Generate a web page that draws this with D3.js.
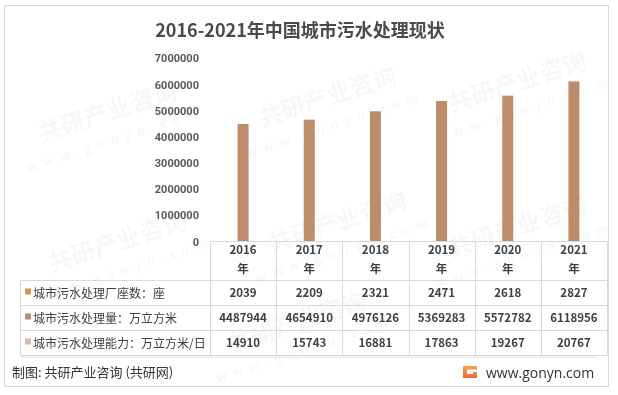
<!DOCTYPE html>
<html><head><meta charset="utf-8">
<script src="https://cdn.jsdelivr.net/npm/d3@7"></script>
<style>
html,body{margin:0;padding:0;background:#fff;}
svg{display:block;font-family:"Noto Sans CJK SC","Noto Sans",sans-serif;}
</style></head>
<body><svg id="c" width="618" height="395"></svg>
<script>
const title = "2016-2021年中国城市污水处理现状";
const years = ["2016","2017","2018","2019","2020","2021"];
const plants = [2039, 2209, 2321, 2471, 2618, 2827];
const volume = [4487944, 4654910, 4976126, 5369283, 5572782, 6118956];
const capacity = [14910, 15743, 16881, 17863, 19267, 20767];
const rowLabels = ["城市污水处理厂座数：座", "城市污水处理量：万立方米", "城市污水处理能力：万立方米/日"];
const rowColors = ["#D9914F", "#BA8C6C", "#D9B8AD"];
const yTicks = [0,1000000,2000000,3000000,4000000,5000000,6000000,7000000];
const source = "制图: 共研产业咨询 (共研网)";
const site = "www.gonyn.com";

const svg = d3.select("#c");
const grid = "#d9d9d9", txt = "#404040";

// outer border
svg.append("rect").attr("x",4.5).attr("y",5.5).attr("width",604).attr("height",381)
  .attr("fill","#fff").attr("stroke",grid);

// watermarks (kept fully inside the frame)
const wm = svg.append("g").attr("fill","#000").attr("opacity",0.035).attr("font-weight","bold");
[[110,120],[330,105],[520,90],[120,250],[340,230],[520,235],[300,330]].forEach(([x,y])=>{
  wm.append("text").attr("transform",`translate(${x},${y}) rotate(-18)`).attr("font-size",24)
    .attr("text-anchor","middle").text("共研产业咨询");
  wm.append("text").attr("transform",`translate(${x+6},${y+24}) rotate(-18)`).attr("font-size",13)
    .attr("text-anchor","middle").attr("letter-spacing",6).text("www.gonyn.com");
});

// title
svg.append("text").attr("x",300).attr("y",37).attr("text-anchor","middle")
  .attr("font-size",18).attr("font-weight","bold").attr("fill","#4a4a4a").text(title);

// scales
const x = d3.scaleBand().domain(years).range([210, 607]).padding(0);
const y = d3.scaleLinear().domain([0, 7000000]).range([241.5, 58.3]);

// y axis
const yAxis = d3.axisLeft(y).tickValues(yTicks).tickSize(0).tickPadding(0).tickFormat(d3.format("d"));
const ya = svg.append("g").attr("transform","translate(199,0)").call(yAxis);
ya.select(".domain").remove();
ya.selectAll("text").attr("font-size",11).attr("font-weight","bold").attr("fill","#595959")
  .attr("font-family","Roboto,'Liberation Sans',sans-serif");

// bars
svg.append("g").selectAll("rect").data(volume).join("rect")
  .attr("x",(d,i)=>x(years[i]) + x.bandwidth()/2 - 5.5)
  .attr("width",11)
  .attr("y",d=>y(d))
  .attr("height",d=>y(0)-y(d))
  .attr("fill","#BC8C6B");

// table
const t = svg.append("g");
const rowY = [241.5, 280.5, 305.5, 330.5, 355.5];
const left = 20.5, right = 607;
t.append("line").attr("x1",210).attr("x2",right).attr("y1",rowY[0]).attr("y2",rowY[0]).attr("stroke",grid);
for (let r=1;r<rowY.length;r++){
  t.append("line").attr("x1",left).attr("x2",right).attr("y1",rowY[r]).attr("y2",rowY[r]).attr("stroke",grid);
}
const xs = years.map(yv=>x(yv)).concat([x(years[5])+x.bandwidth()]);
xs.forEach(xx=>{
  t.append("line").attr("x1",Math.round(xx)+0.5).attr("x2",Math.round(xx)+0.5)
    .attr("y1",rowY[0]).attr("y2",rowY[4]).attr("stroke",grid);
});
t.append("line").attr("x1",left).attr("x2",left).attr("y1",rowY[1]).attr("y2",rowY[4]).attr("stroke",grid);
t.append("line").attr("x1",left).attr("x2",597).attr("y1",357).attr("y2",357).attr("stroke","#ececec").attr("stroke-width",1.5);

// header
years.forEach(yv=>{
  const cx = x(yv)+x.bandwidth()/2;
  t.append("text").attr("x",cx).attr("y",254).attr("text-anchor","middle")
    .attr("font-size",11.5).attr("font-weight","bold").attr("fill",txt).text(yv);
  t.append("text").attr("x",cx).attr("y",273).attr("text-anchor","middle")
    .attr("font-size",11.5).attr("font-weight","bold").attr("fill",txt).text("年");
});

// rows
const rows = [plants, volume, capacity];
rows.forEach((vals,r)=>{
  const cy = (rowY[r+1]+rowY[r+2])/2;
  t.append("rect").attr("x",25).attr("y",cy-4.5).attr("width",6).attr("height",6).attr("fill",rowColors[r]);
  t.append("text").attr("x",33).attr("y",cy+4.5).attr("font-size",12).attr("fill",txt).text(rowLabels[r]);
  vals.forEach((v,i)=>{
    t.append("text").attr("x",x(years[i])+x.bandwidth()/2).attr("y",cy+4)
      .attr("text-anchor","middle").attr("font-size",11.5).attr("font-weight","bold").attr("fill",txt).text(v);
  });
});

// footer
svg.append("text").attr("x",12).attr("y",377).attr("font-size",13).attr("fill","#333").text(source);
const lg = svg.append("g").attr("transform","translate(463,366)");
const grad = svg.append("defs").append("linearGradient").attr("id","lg").attr("x1",0).attr("y1",0).attr("x2",0).attr("y2",1);
grad.append("stop").attr("offset","0%").attr("stop-color","#F7A24A");
grad.append("stop").attr("offset","100%").attr("stop-color","#F0663A");
lg.append("path").attr("d","M0,0 H14 V3.5 H4 V8 H10 V6 H14 V12 H0 Z").attr("fill","url(#lg)");
svg.append("text").attr("x",486).attr("y",378).attr("font-size",14).attr("fill","#333")
  .attr("font-family","'Open Sans','Noto Sans',sans-serif").text(site);
</script></body></html>
